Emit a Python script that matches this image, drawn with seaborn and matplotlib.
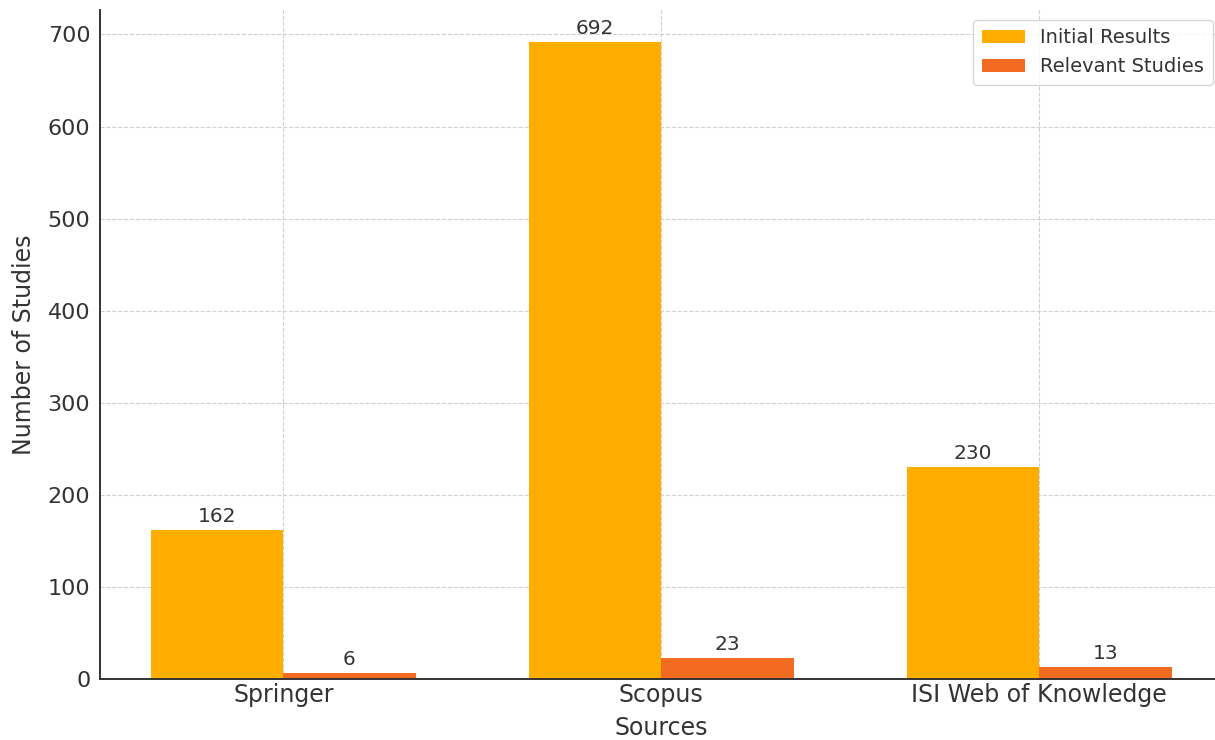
import pandas as pd
import matplotlib
matplotlib.use("Agg")
import matplotlib.pyplot as plt
import seaborn as sns

sources = ["Springer", "Scopus", "ISI Web of Knowledge"]
initial_results = [162, 692, 230]
relevant_studies = [6, 23, 13]
series_names = ["Initial Results", "Relevant Studies"]

df = pd.DataFrame({"source": sources * 2,
                   "kind": [series_names[0]] * 3 + [series_names[1]] * 3,
                   "count": initial_results + relevant_studies})

sns.set_style("whitegrid", {"grid.linestyle": "--", "grid.color": "#d0d0d0"})
plt.rcParams["font.family"] = ["DejaVu Sans"]
plt.rcParams["text.color"] = "#333333"
plt.rcParams["axes.labelcolor"] = "#333333"
plt.rcParams["xtick.color"] = "#333333"
plt.rcParams["ytick.color"] = "#333333"

fig = plt.figure(figsize=(12.15, 7.4), dpi=100)
ax = fig.add_axes([0.0823, 0.0824, 0.924, 0.9041])

sns.barplot(data=df, x="source", y="count", hue="kind", ax=ax,
            palette=["#FFAE00", "#F26B21"], width=0.7, saturation=1,
            edgecolor="none")

for cont in ax.containers:
    ax.bar_label(cont, padding=3, fontsize=14.5, color="#333333")

ax.set_xlabel("Sources", fontsize=17, labelpad=6)
ax.set_ylabel("Number of Studies", fontsize=17, labelpad=8)
ax.tick_params(axis="x", labelsize=17, direction="in", length=5, width=1.2,
               color="#333333", pad=3)
ax.tick_params(axis="y", labelsize=16, direction="in", length=5, width=1.2,
               color="#333333", pad=7)
ax.set_yticks([0, 100, 200, 300, 400, 500, 600, 700])
ax.set_xlim(-0.485, 2.485)
ax.set_ylim(0, 726.6)
ax.grid(True, axis="both", linestyle="--", color="#d0d0d0", linewidth=0.8)
ax.set_axisbelow(True)

for s in ["top", "right"]:
    ax.spines[s].set_visible(False)
for s in ["left", "bottom"]:
    ax.spines[s].set_color("#333333")
    ax.spines[s].set_linewidth(1.4)

leg = ax.legend(loc="upper right", bbox_to_anchor=(1.0, 1.0), fontsize=14,
                frameon=True, title=None, handlelength=2.2, borderpad=0.45)
leg.get_frame().set_edgecolor("#cccccc")

fig.savefig("out.png", dpi=100)
